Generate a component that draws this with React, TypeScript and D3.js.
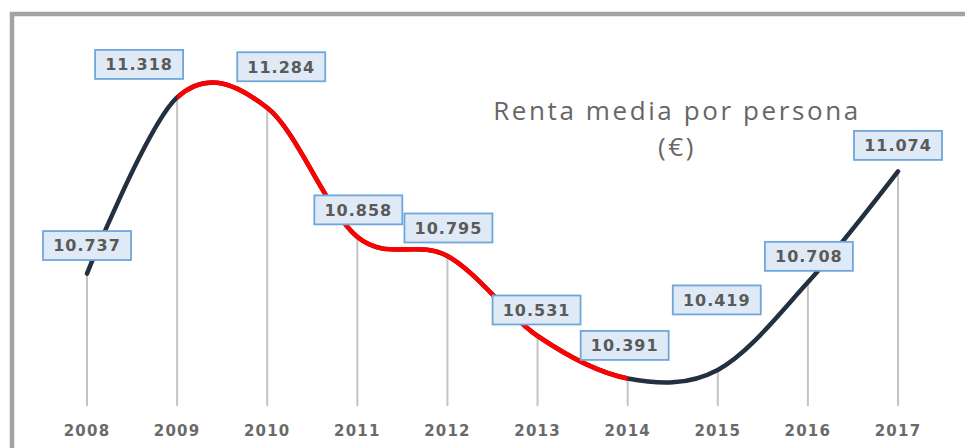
import React from "react";
import * as d3 from "d3";

const years = ["2008", "2009", "2010", "2011", "2012", "2013", "2014", "2015", "2016", "2017"];
const renta = [10737, 11318, 11284, 10858, 10795, 10531, 10391, 10419, 10708, 11074];
const valueLabels = ["10.737", "11.318", "11.284", "10.858", "10.795", "10.531", "10.391", "10.419", "10.708", "11.074"];
const redFrom = "2009";
const redTo = "2014";
const titleLines = ["Renta media por persona", "(€)"];
// label placement offsets (layout), relative to the point
const labelDx = [0, -38, 14, 1, 1, -1, -3, -1, 1, 0];
const labelDy = [-28, -33, -41, -27, -28, -26, -33, -70, -26, -26];

const W = 965;
const H = 448;

export default function App() {
  const x = d3.scalePoint<string>().domain(years).range([87, 898]);
  const y = d3.scaleLinear().domain([10300, 11400]).range([406, 72.6]);
  const pts: [number, number][] = years.map((yr, i) => [x(yr)!, y(renta[i])]);
  const line = d3.line().curve(d3.curveCardinal.tension(0));
  const d = line(pts) || "";
  const baseY = y(10300);
  const rx0 = x(redFrom)!;
  const rx1 = x(redTo)!;
  const boxW = 88;
  const boxH = 29;

  return (
    <svg
      width={W}
      height={H}
      style={{ position: "absolute", left: 0, top: 0, background: "#fff" }}
      fontFamily="'DejaVu Sans', Verdana, sans-serif"
    >
      <defs>
        <clipPath id="redClip">
          <rect x={rx0} y={0} width={rx1 - rx0} height={H} />
        </clipPath>
      </defs>
      <rect x={12} y={14} width={W + 20} height={H + 20} fill="none" stroke="#a3a3a3" strokeWidth={4.5} />
      {years.map((yr, i) => (
        <line key={"dl" + yr} x1={x(yr)} x2={x(yr)} y1={baseY} y2={y(renta[i])} stroke="#c4c4c4" strokeWidth={2} />
      ))}
      <path d={d} fill="none" stroke="#23303f" strokeWidth={4.5} strokeLinecap="round" />
      <path d={d} fill="none" stroke="#ff0000" strokeWidth={4.6} clipPath="url(#redClip)" />
      {years.map((yr, i) => (
        <text
          key={"yl" + yr}
          x={x(yr)}
          y={436}
          textAnchor="middle"
          fontSize={15}
          fontWeight={600}
          fill="#6a6a6a"
          letterSpacing={1.2}
        >
          {yr}
        </text>
      ))}
      {years.map((yr, i) => {
        const cx = x(yr)! + labelDx[i];
        const cy = y(renta[i]) + labelDy[i];
        return (
          <g key={"lb" + yr}>
            <rect
              x={cx - boxW / 2}
              y={cy - boxH / 2}
              width={boxW}
              height={boxH}
              fill="#dfeaf6"
              stroke="#6fa6dc"
              strokeWidth={1.8}
            />
            <text
              x={cx}
              y={cy + 5.8}
              textAnchor="middle"
              fontSize={16}
              fontWeight="bold"
              fill="#5a5a5a"
              letterSpacing={1}
            >
              {valueLabels[i]}
            </text>
          </g>
        );
      })}
      {titleLines.map((t, i) => (
        <text
          key={"t" + i}
          x={677}
          y={120 + i * 36}
          textAnchor="middle"
          fontSize={26}
          fill="#666666"
          fontFamily="'Open Sans', 'DejaVu Sans', sans-serif"
          letterSpacing={2.6}
        >
          {t}
        </text>
      ))}
    </svg>
  );
}
